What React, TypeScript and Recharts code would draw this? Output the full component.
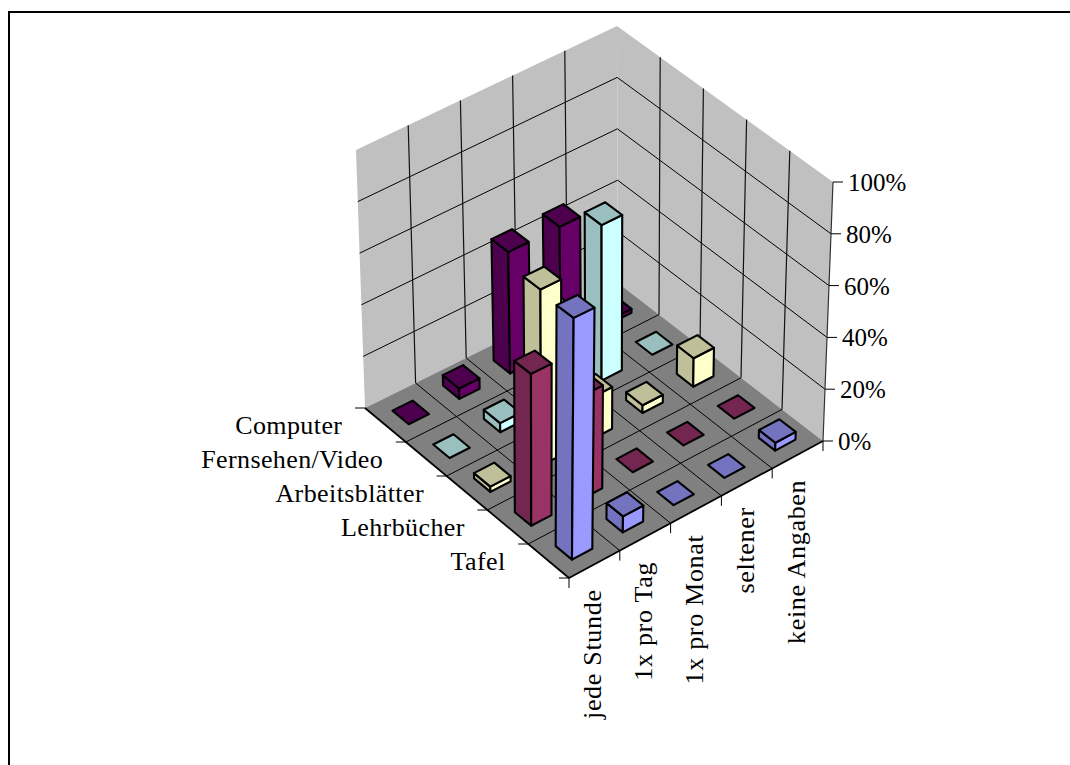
import React from 'react';
import { ScatterChart, Scatter, XAxis, YAxis, Polygon } from 'recharts';

const frequencies = ['jede Stunde', '1x pro Tag', '1x pro Monat', 'seltener', 'keine Angaben'];
const media = ['Tafel', 'Lehrbücher', 'Arbeitsblätter', 'Fernsehen/Video', 'Computer'];
const percentTicks = [0, 20, 40, 60, 80, 100];

// share per frequency, same order as frequencies
const tafel = [90, 6, 0, 0, 3];
const lehrbuecher = [57, 39, 0, 0, 0];
const arbeitsblaetter = [2, 67, 16, 3, 11];
const fernsehen = [0, 3.5, 35, 60, 0];
const computer = [0, 4, 47, 47, 1.5];

const seriesValues = [tafel, lehrbuecher, arbeitsblaetter, fernsehen, computer];

// side face, shaded face
const palette = [
  ['#9999FF', '#7373BF'],
  ['#993366', '#732650'],
  ['#FFFFCC', '#BFBF99'],
  ['#CCFFFF', '#99BFBF'],
  ['#660066', '#4D004D'],
];

const WIDTH = 1070;
const HEIGHT = 765;
const FONT = '"Liberation Serif", "Times New Roman", serif';
const CELLS = 5;
const BAR_INSET = 0.3;

// Box corners of the 3D plot, floor and ceiling, in chart units
const floor = { front: [569, 578], right: [823, 441], left: [365, 408], back: [618, 283] };
const ceiling = { front: [571, 308], right: [833, 182], left: [356, 150], back: [617, 26] };

type Pt = { x: number; y: number; label?: string };

const mix = (a: number, b: number, t: number) => a + (b - a) * t;

// col runs along the frequency edge, row along the media edge, pct goes up
const project = (col: number, row: number, pct: number): Pt => {
  const s = col / CELLS;
  const t = row / CELLS;
  const h = pct / 100;
  const at = (i: number) => {
    const low = mix(mix(floor.front[i], floor.right[i], s), mix(floor.left[i], floor.back[i], s), t);
    const high = mix(mix(ceiling.front[i], ceiling.right[i], s), mix(ceiling.left[i], ceiling.back[i], s), t);
    return mix(low, high, h);
  };
  return { x: at(0), y: at(1) };
};

const noMark = () => <g />;

const filled = (fill: string, stroke: string, strokeWidth: number) => (p: any) => (
  <Polygon points={p.points} fill={fill} stroke={stroke} strokeWidth={strokeWidth} strokeLinejoin="round" />
);

const Face = (key: string, pts: Pt[], fill: string, stroke = '#000', strokeWidth = 2.1) => (
  <Scatter
    key={key}
    data={pts}
    dataKey="y"
    shape={noMark}
    line={filled(fill, stroke, strokeWidth)}
    isAnimationActive={false}
  />
);

const Rule = (key: string, pts: Pt[], stroke = '#000', strokeWidth = 1) => (
  <Scatter
    key={key}
    data={pts}
    dataKey="y"
    shape={noMark}
    line={{ stroke, strokeWidth }}
    isAnimationActive={false}
  />
);

const labelShape = (anchor: string, rotate: boolean, size: number, spacing: number) => (p: any) => (
  <text
    x={p.cx}
    y={p.cy}
    textAnchor={anchor}
    fontFamily={FONT}
    fontSize={size}
    letterSpacing={spacing}
    fill="#000"
    transform={rotate ? `rotate(-90 ${p.cx} ${p.cy})` : undefined}
  >
    {p.payload.label}
  </text>
);

const Labels = (key: string, pts: Pt[], anchor: string, rotate: boolean, size: number, spacing: number) => (
  <Scatter
    key={key}
    data={pts}
    dataKey="y"
    shape={labelShape(anchor, rotate, size, spacing)}
    isAnimationActive={false}
  />
);

const range = (n: number) => Array.from({ length: n }, (_, i) => i);

const walls = () => {
  const out: React.ReactNode[] = [];
  out.push(Face('wall-left', [project(0, CELLS, 0), project(CELLS, CELLS, 0), project(CELLS, CELLS, 100), project(0, CELLS, 100)], '#C0C0C0', 'none', 0));
  out.push(Face('wall-right', [project(CELLS, CELLS, 0), project(CELLS, 0, 0), project(CELLS, 0, 100), project(CELLS, CELLS, 100)], '#C0C0C0', 'none', 0));
  out.push(Face('floor', [project(0, 0, 0), project(CELLS, 0, 0), project(CELLS, CELLS, 0), project(0, CELLS, 0)], '#808080', 'none', 0));
  percentTicks.slice(1, -1).forEach((pct) => {
    out.push(Rule(`gl-${pct}`, [project(0, CELLS, pct), project(CELLS, CELLS, pct)]));
    out.push(Rule(`gr-${pct}`, [project(CELLS, CELLS, pct), project(CELLS, 0, pct)]));
  });
  range(CELLS - 1).forEach((i) => {
    out.push(Rule(`vl-${i}`, [project(i + 1, CELLS, 0), project(i + 1, CELLS, 100)], '#111', 1.2));
    out.push(Rule(`vr-${i}`, [project(CELLS, i + 1, 0), project(CELLS, i + 1, 100)], '#111', 1.2));
    out.push(Rule(`fu-${i}`, [project(i + 1, 0, 0), project(i + 1, CELLS, 0)]));
    out.push(Rule(`fv-${i}`, [project(0, i + 1, 0), project(CELLS, i + 1, 0)]));
  });
  return out;
};

const axes = () => {
  const out: React.ReactNode[] = [];
  out.push(Rule('edge-media', [project(0, CELLS, 0), project(0, 0, 0)], '#000', 1.8));
  out.push(Rule('edge-freq', [project(0, 0, 0), project(CELLS, 0, 0)], '#000', 1.8));
  out.push(Rule('edge-pct', [project(CELLS, 0, 0), project(CELLS, 0, 100)], '#333', 1.2));
  range(CELLS + 1).forEach((i) => {
    const m = project(0, i, 0);
    out.push(Rule(`tm-${i}`, [m, { x: m.x - 10, y: m.y }], '#000', 1));
    const f = project(i, 0, 0);
    out.push(Rule(`tf-${i}`, [f, { x: f.x, y: f.y + 10 }], '#000', 1));
  });
  percentTicks.forEach((pct) => {
    const p = project(CELLS, 0, pct);
    out.push(Rule(`tp-${pct}`, [p, { x: p.x + 10, y: p.y }], '#000', 1));
  });
  return out;
};

// back cells first so nearer bars cover the ones behind them
const bars = () => {
  const cells: { col: number; row: number }[] = [];
  range(CELLS).forEach((row) => range(CELLS).forEach((col) => cells.push({ col, row })));
  cells.sort((a, b) => b.col + b.row - (a.col + a.row));

  const out: React.ReactNode[] = [];
  cells.forEach(({ col, row }) => {
    const v = seriesValues[row][col];
    const [side, shade] = palette[row];
    const u0 = col + BAR_INSET;
    const u1 = col + 1 - BAR_INSET;
    const v0 = row + BAR_INSET;
    const v1 = row + 1 - BAR_INSET;
    const id = `${row}-${col}`;
    if (v > 0) {
      out.push(Face(`left-${id}`, [project(u0, v1, 0), project(u0, v0, 0), project(u0, v0, v), project(u0, v1, v)], shade));
      out.push(Face(`right-${id}`, [project(u0, v0, 0), project(u1, v0, 0), project(u1, v0, v), project(u0, v0, v)], side));
    }
    out.push(Face(`top-${id}`, [project(u0, v0, v), project(u1, v0, v), project(u1, v1, v), project(u0, v1, v)], shade));
  });
  return out;
};

const labels = () => {
  const mediaPts = media.map((label, i) => {
    const p = project(0, i + 0.5, 0);
    return { x: p.x - 43, y: p.y + 9, label };
  });
  const freqPts = frequencies.map((label, i) => {
    const p = project(i + 0.5, 0, 0);
    return { x: p.x + 7, y: p.y + 25, label };
  });
  const pctPts = percentTicks.map((pct) => {
    const p = project(CELLS, 0, pct);
    return { x: p.x + 15, y: p.y + 9, label: `${pct}%` };
  });
  return [
    Labels('media-labels', mediaPts, 'end', false, 26, 0.4),
    Labels('freq-labels', freqPts, 'end', true, 26, 0.7),
    Labels('pct-labels', pctPts, 'start', false, 25, 0),
  ];
};

export default function App() {
  return (
    <div style={{ position: 'absolute', left: 0, top: 0, width: WIDTH, height: HEIGHT, background: '#fff' }}>
      <div
        style={{
          position: 'absolute',
          left: 8,
          top: 11,
          right: 0,
          bottom: 0,
          borderLeft: '2px solid #000',
          borderTop: '2px solid #000',
        }}
      />
      <div style={{ position: 'absolute', left: 0, top: 0 }}>
        <ScatterChart width={WIDTH} height={HEIGHT} margin={{ top: 0, right: 0, bottom: 0, left: 0 }}>
          <XAxis type="number" dataKey="x" domain={[0, WIDTH]} hide />
          <YAxis type="number" dataKey="y" domain={[0, HEIGHT]} reversed hide />
          {walls()}
          {axes()}
          {bars()}
          {labels()}
        </ScatterChart>
      </div>
    </div>
  );
}
